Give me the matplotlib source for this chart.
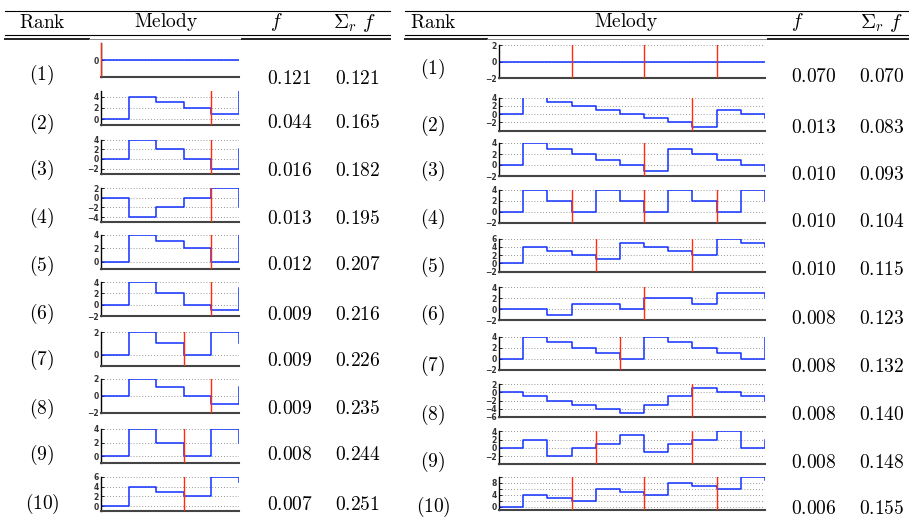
import numpy as np
import matplotlib
matplotlib.use('Agg')
import matplotlib.pyplot as plt

plt.rcParams['mathtext.fontset'] = 'cm'

W, H = 909, 519

#%% DATA ######################################################################
ranks = ['(%d)' % (i + 1) for i in range(10)]

# left table: 5-note melodies, last entry is the level the line ends on
left_notes = [
    [0, 0, 0, 0, 0, 0],
    [0, 4, 3, 2, 1, 5],
    [0, 4, 2, 0, -2, 2],
    [0, -4, -2, 0, 2, -2],
    [0, 4, 3, 2, 0, 4],
    [0, 4, 2, 0, -1, 3],
    [0, 2, 1, 0, 2, 1],
    [0, 2, 1, 0, -1, 1],
    [0, 4, 2, 0, 4, 2],
    [0, 4, 3, 2, 6, 5],
]
left_bars = [[0], [4], [4], [4], [4], [4], [3], [4], [3], [3]]
left_ylim = [(-1, 1), (-1, 5), (-3, 4), (-5, 2), (-1, 4),
             (-2, 4), (-1, 2), (-2, 2), (-1, 4), (-1, 6)]
left_yticks = [[0], [0, 2, 4], [-2, 0, 2, 4], [-4, -2, 0, 2], [0, 2, 4],
               [-2, 0, 2, 4], [0, 2], [-2, 0, 2], [0, 2, 4], [0, 2, 4, 6]]
left_f = ['0.121', '0.044', '0.016', '0.013', '0.012',
          '0.009', '0.009', '0.009', '0.008', '0.007']
left_cum = ['0.121', '0.165', '0.182', '0.195', '0.207',
            '0.216', '0.226', '0.235', '0.244', '0.251']

# right table: 11-note melodies
right_notes = [
    [0, 0, 0, 0, 0, 0, 0, 0, 0, 0, 0, 0],
    [0, 5, 3, 2, 1, 0, -1, -2, -3, 1, 0, -1],
    [0, 4, 3, 2, 1, 0, -1, 3, 2, 1, 0, -1],
    [0, 4, 2, 0, 4, 2, 0, 4, 2, 0, 4, 2],
    [0, 4, 3, 2, 1, 5, 4, 3, 2, 6, 5, 4],
    [0, 0, -1, 1, 1, 0, 2, 2, 1, 3, 3, 2],
    [0, 4, 3, 2, 1, 0, 4, 3, 2, 1, 0, 4],
    [0, -1, -2, -3, -4, -5, -3, -1, 1, 0, -1, -2],
    [0, 2, -2, 0, 1, 3, -1, 1, 2, 4, 0, 2],
    [0, 4, 3, 2, 6, 5, 4, 8, 7, 6, 10, 9],
]
right_bars = [[3, 6, 9], [8], [6], [3, 6, 9], [4, 8],
              [6], [5], [8], [4, 8], [3, 6, 9]]
right_ylim = [(-2, 2), (-4, 4), (-2, 4), (-2, 4), (-2, 6),
              (-2, 4), (-2, 4), (-6, 2), (-4, 4), (-1, 10)]
right_yticks = [[-2, 0, 2], [-2, 0, 2, 4], [-2, 0, 2, 4], [-2, 0, 2, 4],
                [-2, 0, 2, 4, 6], [-2, 0, 2, 4], [-2, 0, 2, 4],
                [-6, -4, -2, 0, 2], [-2, 0, 2, 4], [0, 2, 4, 6, 8, 10]]
right_ylabels = [None] * 9 + [['0', '', '4', '', '8', '']]
right_f = ['0.070', '0.013', '0.010', '0.010', '0.010',
           '0.008', '0.008', '0.008', '0.008', '0.006']
right_cum = ['0.070', '0.083', '0.093', '0.104', '0.115',
             '0.123', '0.132', '0.140', '0.148', '0.155']

#%% LAYOUT (pixels) ###########################################################
left_ax_bottom = [77, 125, 173.5, 222, 268.5, 316, 366, 412.5, 463, 511]
right_ax_bottom = [78.3, 130.7, 176, 222.7, 271.7, 320.3, 369.7, 417, 464.3, 510]
left_rank_y = [75, 124, 170, 218, 266, 314, 360, 409, 455, 504]
left_num_y = [79, 123, 171, 218, 265, 314, 361, 409, 455, 505]
right_rank_y = [69, 126, 171, 219, 267, 315, 366, 415, 462, 507]
right_num_y = [76.7, 127.3, 174.3, 221.7, 269.3, 318, 366, 415, 463, 508]

fig = plt.figure(figsize=(W / 100, H / 100), dpi=100)
bg = fig.add_axes([0, 0, 1, 1])
bg.set_xlim(0, W)
bg.set_ylim(H, 0)
bg.axis('off')

fs = 14


def px_axes(x0, bottom, w, h):
    return fig.add_axes([x0 / W, 1 - bottom / H, w / W, h / H])


def melody(ax, notes, bars, ylim, yticks, ylabels=None):
    x = np.arange(len(notes))
    ax.step(x, notes, where='post', color='#1030ff', lw=1.1, zorder=2)
    for b in bars:
        ax.axvline(b, color='#ff2a10', lw=1.0, zorder=3)
    ax.set_xlim(0, len(notes) - 1)
    ax.set_ylim(*ylim)
    ax.set_xticks([])
    ax.set_yticks(yticks)
    if ylabels is not None:
        ax.set_yticklabels(ylabels)
    ax.yaxis.grid(True, linestyle=(0, (1, 2.5)), color='#777777', lw=0.6)
    ax.set_axisbelow(True)
    ax.tick_params(axis='y', length=2, width=0.6, direction='in',
                   labelsize=5.5, pad=1.5, labelcolor='#333333')
    for lab in ax.get_yticklabels():
        lab.set_fontweight('bold')
    ax.spines['top'].set_visible(False)
    ax.spines['right'].set_visible(False)
    ax.spines['left'].set_linewidth(1.0)
    ax.spines['bottom'].set_linewidth(1.5)
    ax.spines['bottom'].set_color('#444444')
    ax.patch.set_alpha(0)


def table(x0, x1, mel_x0, mel_x1, col):
    # rules
    bg.plot([x0, x1], [11, 11], color='k', lw=0.8)
    bg.plot([x0, x1], [34.5, 34.5], color='k', lw=0.8)
    bg.plot([x0, mel_x0 - 12], [39, 39], color='#222222', lw=1.4)
    bg.plot([mel_x0 - 12, mel_x1 + 3], [39, 39], color='#888888', lw=0.7)
    bg.plot([mel_x1 + 3, x1], [39, 39], color='#222222', lw=1.4)
    # header
    bg.text(col[0], 22, r'$\mathrm{Rank}$', ha='center', va='center', fontsize=fs)
    bg.text(col[1], 22, r'$\mathrm{Melody}$', ha='center', va='center', fontsize=fs)
    bg.text(col[2], 22, r'$f$', ha='left', va='center', fontsize=fs)
    bg.text(col[3], 23, r'$\Sigma_r\ f$', ha='left', va='center', fontsize=fs + 1)


#%% LEFT TABLE ################################################################
table(5, 390, 101, 239, [42, 166, 270, 333])
for i in range(10):
    ax = px_axes(101, left_ax_bottom[i], 138, 34)
    melody(ax, left_notes[i], left_bars[i], left_ylim[i], left_yticks[i])
    bg.text(42, left_rank_y[i], '$' + ranks[i] + '$', ha='center', va='center', fontsize=fs)
    bg.text(267, left_num_y[i], '$' + left_f[i] + '$', ha='left', va='center', fontsize=fs)
    bg.text(335, left_num_y[i], '$' + left_cum[i] + '$', ha='left', va='center', fontsize=fs)

#%% RIGHT TABLE ###############################################################
table(405, 909, 499, 765, [433, 626, 791, 860])
for i in range(10):
    ax = px_axes(499, right_ax_bottom[i], 266, 33)
    melody(ax, right_notes[i], right_bars[i], right_ylim[i], right_yticks[i],
           right_ylabels[i])
    bg.text(433, right_rank_y[i], '$' + ranks[i] + '$', ha='center', va='center', fontsize=fs)
    bg.text(791, right_num_y[i], '$' + right_f[i] + '$', ha='left', va='center', fontsize=fs)
    bg.text(859, right_num_y[i], '$' + right_cum[i] + '$', ha='left', va='center', fontsize=fs)

fig.savefig('out.png', dpi=100)
